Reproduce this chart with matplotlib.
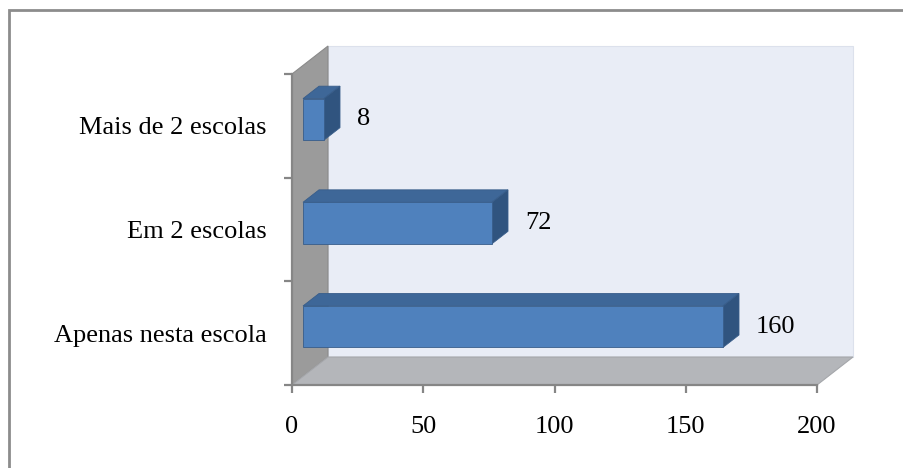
import matplotlib
matplotlib.use("Agg")
import matplotlib.pyplot as plt
from matplotlib.patches import Polygon, Rectangle

categories = ["Apenas nesta escola", "Em 2 escolas", "Mais de 2 escolas"]
values = [160, 72, 8]
xticks = [0, 50, 100, 150, 200]

W, H = 904, 468
fig = plt.figure(figsize=(W / 100, H / 100), dpi=100)
fig.patch.set_facecolor("white")

# front plane in pixels
L, R, T, B = 292, 817, 74, 385
ax = fig.add_axes([L / W, (H - B) / H, (R - L) / W, (B - T) / H])
ax.set_xlim(0, 200)
ax.set_ylim(0, 3)
ax.set_facecolor("none")

pxx = (R - L) / 200.0
pxy = (B - T) / 3.0
DX = 36 / pxx   # depth offset in data units (x)
DY = 28 / pxy   # depth offset in data units (y)

def poly(pts, fc, ec="none", lw=0.0, z=1):
    p = Polygon(pts, closed=True, facecolor=fc, edgecolor=ec, linewidth=lw,
                clip_on=False, zorder=z)
    ax.add_patch(p)

# walls
poly([(DX, DY), (200 + DX, DY), (200 + DX, 3 + DY), (DX, 3 + DY)], "#E9EDF6", "#DCE1EC", 0.8, 0)
poly([(0, 0), (DX, DY), (DX, 3 + DY), (0, 3)], "#9B9B9B", "#8A8A8A", 0.8, 0.5)
poly([(0, 0), (200, 0), (200 + DX, DY), (DX, DY)], "#B4B6BA", "#A5A7AB", 0.8, 0.5)

# bars
d0, d1 = 11 / 36, 27 / 36
h = 0.40
front_c, top_c, side_c, edge_c = "#4F81BD", "#3E6798", "#30547F", "#385D8A"
for i, v in enumerate(values):
    c = i + 0.48
    x0 = d0 * DX
    x1 = v + d0 * DX
    y0 = c - h / 2 + d0 * DY
    y1 = c + h / 2 + d0 * DY
    ox = (d1 - d0) * DX
    oy = (d1 - d0) * DY
    poly([(x0, y1), (x1, y1), (x1 + ox, y1 + oy), (x0 + ox, y1 + oy)], top_c, edge_c, 0.6, 2)
    poly([(x1, y0), (x1 + ox, y0 + oy), (x1 + ox, y1 + oy), (x1, y1)], side_c, edge_c, 0.6, 2)
    poly([(x0, y0), (x1, y0), (x1, y1), (x0, y1)], front_c, edge_c, 0.6, 3)
    ax.text(x1 + ox + 6.5, (y0 + y1) / 2, str(v), ha="left", va="center",
            fontsize=19, family="Liberation Serif", color="black", zorder=4)

# axes styling
for s in ["top", "right"]:
    ax.spines[s].set_visible(False)
for s in ["left", "bottom"]:
    ax.spines[s].set_color("#868686")
    ax.spines[s].set_linewidth(1.6)
    ax.spines[s].set_zorder(1)

ax.set_xticks(xticks)
ax.set_xticklabels([str(t) for t in xticks], family="Liberation Serif", fontsize=19)
ax.tick_params(axis="x", direction="out", length=6, width=1.6, color="#868686", pad=16.5)

ax.set_yticks([0, 1, 2, 3])
ax.set_yticklabels([])
ax.tick_params(axis="y", which="major", direction="out", length=6, width=1.6, color="#868686")
ax.set_yticks([i + 0.5 for i in range(3)], minor=True)
ax.set_yticklabels(categories, minor=True, family="Liberation Serif", fontsize=19)
ax.tick_params(axis="y", which="minor", length=0, pad=18.5)

# outer frame
fig.patches.append(Rectangle((9 / W, -0.05), 1.1, (H - 10) / H + 0.05, transform=fig.transFigure,
                             facecolor="none", edgecolor="#8C8C8C", linewidth=2.0, zorder=10))

fig.savefig("out.png", dpi=100)
